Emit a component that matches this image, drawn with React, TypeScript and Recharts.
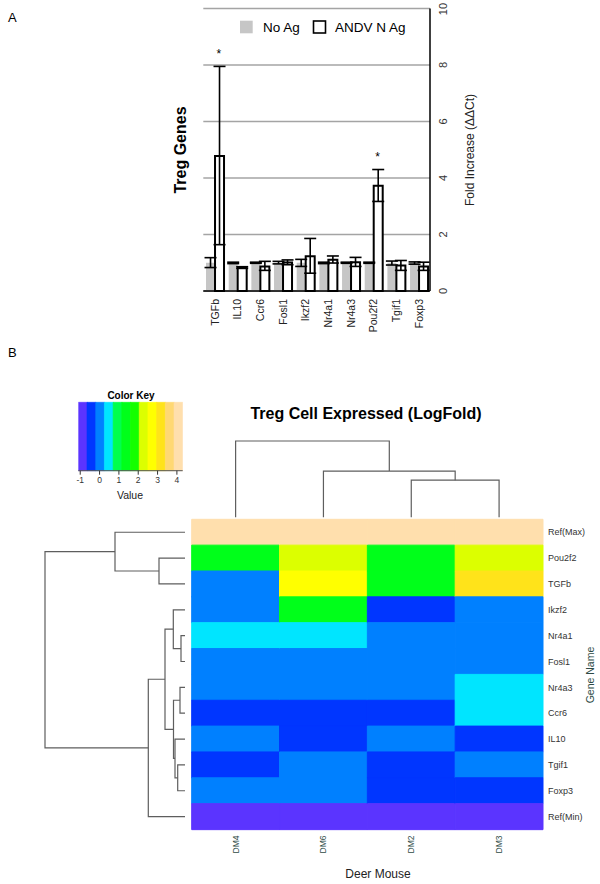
import React from "react";
import {
  Bar,
  BarChart,
  CartesianGrid,
  Cell,
  ComposedChart,
  ErrorBar,
  Line,
  LineChart,
  Scatter,
  XAxis,
  YAxis,
} from "recharts";

const FONT = "'Liberation Sans', Arial, Helvetica, sans-serif";

// ---- panel A: fold increase per Treg gene ----
const genesA = ["TGFb", "IL10", "Ccr6", "Fosl1", "Ikzf2", "Nr4a1", "Nr4a3", "Pou2f2", "Tgif1", "Foxp3"];
const noAg = [1, 1, 1, 1, 1, 1, 1, 1, 1, 1];
const noAgLow = [0.83, 0.97, 0.98, 0.96, 0.87, 0.97, 0.98, 0.98, 0.92, 0.95];
const noAgHigh = [1.18, 1.02, 1.02, 1.05, 1.12, 1.02, 1.02, 1.02, 1.06, 1.03];
const andv = [4.78, 0.84, 0.87, 1.01, 1.23, 1.11, 1.02, 3.73, 0.9, 0.87];
const andvLow = [1.64, 0.8, 0.73, 0.93, 0.63, 0.99, 0.87, 3.17, 0.73, 0.73];
const andvHigh = [7.95, 0.86, 1.05, 1.1, 1.86, 1.24, 1.19, 4.3, 1.08, 1.02];
const starred = ["TGFb", "Pou2f2"];
const foldTicks = [0, 2, 4, 6, 8, 10];
const seriesNames = ["No Ag", "ANDV N Ag"];

// ---- panel B: heatmap (log fold) ----
const heatGenes = ["Ref(Max)", "Pou2f2", "TGFb", "Ikzf2", "Nr4a1", "Fosl1", "Nr4a3", "Ccr6", "IL10", "Tgif1", "Foxp3", "Ref(Min)"];
const mice = ["DM4", "DM6", "DM2", "DM3"];
const dm4 = [4.2, 1.45, 0, 0, 0.5, 0, 0, -0.45, 0, -0.45, 0, -0.95];
const dm6 = [4.2, 2.3, 2.7, 1.45, 0.5, 0, 0, -0.45, -0.45, 0, 0, -0.95];
const dm2 = [4.2, 1.45, 1.45, -0.45, 0, 0, 0, -0.45, 0, -0.45, -0.45, -0.95];
const dm3 = [4.2, 2.3, 3.2, 0, 0, 0, 0.5, 0.5, -0.45, 0, -0.45, -0.95];

// colour key: 12 bins
const keyStart = -1.1;
const keyStep = 0.45;
const keyTicks = [-1, 0, 1, 2, 3, 4];
const keyColors = [
  "#5b34ff", "#0036ff", "#0080ff", "#00e5ff", "#00ff4d", "#00ff1a",
  "#14ff00", "#dcff00", "#ffff00", "#ffe31a", "#ffd873", "#ffdfad",
];

// dendrograms, hclust-style merges: [left, right, height]; numbers refer to earlier merges
const rowMerge: [string | number, string | number, number][] = [
  ["Pou2f2", "TGFb", 26],
  ["Ref(Max)", 0, 70],
  ["Nr4a1", "Fosl1", 4],
  ["Ikzf2", 2, 11.7],
  ["Nr4a3", "Ccr6", 5],
  ["Tgif1", "Foxp3", 7.3],
  ["IL10", 5, 10],
  [4, 6, 11.5],
  [3, 7, 20],
  [8, "Ref(Min)", 36.7],
  [1, 9, 140],
];
const colMerge: [string | number, string | number, number][] = [
  ["DM2", "DM3", 3.7],
  ["DM6", 0, 4.6],
  ["DM4", 1, 7.6],
];

const tableA = genesA.map((gene, i) => ({
  gene,
  noAg: noAg[i],
  noAgErr: [noAg[i] - noAgLow[i], noAgHigh[i] - noAg[i]],
  andv: andv[i],
  andvErr: [andv[i] - andvLow[i], andvHigh[i] - andv[i]],
  star: starred.includes(gene) ? andvHigh[i] + 0.5 : null,
}));

const heatCols = [dm4, dm6, dm2, dm3];
const heatTable = heatGenes.map((gene, i) => {
  const row: any = { gene };
  mice.forEach((m, j) => {
    row[m] = heatCols[j][i];
    row["w" + j] = 1;
  });
  return row;
});

// one bar per key bin, centred on the bin
const keyTable = keyColors.map((c, i) => ({ v: keyStart + (i + 0.5) * keyStep, full: 1, fill: c }));

const colorOf = (v: number) =>
  keyColors[Math.min(keyColors.length - 1, Math.max(0, Math.floor((v - keyStart) / keyStep)))];

function dendro(order: string[], merges: [string | number, string | number, number][]) {
  const pos: number[] = [];
  const hts: number[] = [];
  const at = (c: string | number) =>
    typeof c === "string" ? [order.indexOf(c) + 0.5, 0] : [pos[c], hts[c]];
  return merges.map(([a, b, h], k) => {
    const [pa, ha] = at(a);
    const [pb, hb] = at(b);
    pos[k] = (pa + pb) / 2;
    hts[k] = h;
    return [
      { p: pa, h: ha },
      { p: pa, h },
      { p: pb, h },
      { p: pb, h: hb },
    ];
  });
}

const rowSegs = dendro(heatGenes, rowMerge);
const colSegs = dendro(mice, colMerge);

const GeneTick = (p: any) => (
  <text x={p.x} y={p.y} transform={`rotate(-90 ${p.x} ${p.y})`} textAnchor="end" dominantBaseline="central" fontSize={10.5} fill="#222">
    {p.payload.value}
  </text>
);

const FoldTick = (p: any) => (
  <text x={p.x} y={p.y} transform={`rotate(-90 ${p.x} ${p.y})`} textAnchor="middle" dominantBaseline="central" fontSize={11} fill="#333">
    {p.payload.value}
  </text>
);

const MouseTick = (p: any) => (
  <text x={p.x} y={p.y} transform={`rotate(-90 ${p.x} ${p.y})`} textAnchor="end" dominantBaseline="central" fontSize={8.5} fill="#2d4a45">
    {mice[Math.floor(p.payload.value)]}
  </text>
);

const Star = (p: any) =>
  p.payload && p.payload.star != null ? (
    <text x={p.cx + 4.3} y={p.cy + 6} textAnchor="middle" fontSize={12} fill="#000">
      *
    </text>
  ) : (
    <g />
  );

const boxLine = { stroke: "#000", strokeWidth: 1.5 };

export default function App() {
  return (
    <div style={{ position: "absolute", left: 0, top: 0, width: 600, height: 884, background: "#fff", fontFamily: FONT }}>
      {/* panel A */}
      <div style={{ position: "absolute", left: 0, top: 0 }}>
        <ComposedChart
          width={600}
          height={350}
          data={tableA}
          margin={{ top: 8.5, left: 203.3, right: 140, bottom: 9 }}
          barCategoryGap="12%"
          barGap={0}
        >
          <CartesianGrid vertical={false} xAxisId="b" yAxisId="r" stroke="#a4a4a4" strokeWidth={1.5} />
          <Bar dataKey="noAg" name={seriesNames[0]} xAxisId="b" yAxisId="r" fill="#c6c6c6" isAnimationActive={false}>
            <ErrorBar dataKey="noAgErr" width={6} stroke="#000" strokeWidth={1.6} />
          </Bar>
          <Bar dataKey="andv" name={seriesNames[1]} xAxisId="b" yAxisId="r" fill="#fff" stroke="#000" strokeWidth={2} isAnimationActive={false}>
            <ErrorBar dataKey="andvErr" width={6} stroke="#000" strokeWidth={1.6} />
          </Bar>
          <Scatter dataKey="star" xAxisId="b" yAxisId="r" shape={Star} isAnimationActive={false} />
          <XAxis
            xAxisId="b"
            dataKey="gene"
            height={50}
            interval={0}
            tickSize={0}
            tickMargin={8}
            tick={GeneTick}
            tickLine={false}
            axisLine={boxLine}
          />
          <XAxis xAxisId="t" dataKey="gene" orientation="top" height={0} tick={false} tickLine={false} axisLine={boxLine} />
          <YAxis
            yAxisId="r"
            orientation="right"
            type="number"
            domain={[0, 10]}
            ticks={foldTicks}
            width={30}
            tickSize={0}
            tickMargin={13}
            tick={FoldTick}
            tickLine={false}
            axisLine={boxLine}
          />
          <YAxis yAxisId="l" orientation="left" type="number" domain={[0, 10]} width={0} tick={false} tickLine={false} axisLine={boxLine} />
        </ComposedChart>
      </div>

      {/* colour key */}
      <div style={{ position: "absolute", left: 60, top: 390 }}>
        <BarChart
          width={140}
          height={102}
          data={keyTable}
          barCategoryGap={0}
          margin={{ top: 12.3, left: 18.3, right: 17.3, bottom: 1.3 }}
        >
          <XAxis
            type="number"
            dataKey="v"
            domain={[keyStart, keyStart + keyColors.length * keyStep]}
            ticks={keyTicks}
            allowDataOverflow
            height={20}
            tickSize={4}
            tickMargin={2}
            tick={{ fontSize: 8.5, fill: "#333" }}
            axisLine={{ stroke: "#555" }}
            tickLine={{ stroke: "#333" }}
          />
          <YAxis type="number" domain={[0, 1]} hide />
          <Bar dataKey="full" isAnimationActive={false}>
            {keyTable.map((r, i) => (
              <Cell key={i} fill={r.fill} stroke={r.fill} strokeWidth={0.6} />
            ))}
          </Bar>
        </BarChart>
      </div>

      {/* column dendrogram */}
      <div style={{ position: "absolute", left: 180, top: 430 }}>
        <LineChart width={380} height={95} margin={{ top: 11, left: 11.7, right: 17, bottom: 7.7 }}>
          <XAxis type="number" dataKey="p" domain={[0, 4]} hide />
          <YAxis type="number" dataKey="h" domain={[0, 7.6]} hide />
          {colSegs.map((s, i) => (
            <Line key={i} data={s} dataKey="h" stroke="#5e5e5e" strokeWidth={1.2} dot={false} isAnimationActive={false} />
          ))}
        </LineChart>
      </div>

      {/* row dendrogram */}
      <div style={{ position: "absolute", left: 40, top: 514 }}>
        <LineChart width={150} height={320} margin={{ top: 5.3, left: 5, right: 5, bottom: 4.5 }}>
          <XAxis type="number" dataKey="h" domain={[0, 140]} reversed hide />
          <YAxis type="number" dataKey="p" domain={[0, 12]} reversed hide />
          {rowSegs.map((s, i) => (
            <Line key={i} data={s} dataKey="p" stroke="#5e5e5e" strokeWidth={1.2} dot={false} isAnimationActive={false} />
          ))}
        </LineChart>
      </div>

      {/* heatmap */}
      <div style={{ position: "absolute", left: 180, top: 510 }}>
        <BarChart
          width={420}
          height={374}
          data={heatTable}
          layout="vertical"
          barCategoryGap={0}
          margin={{ top: 9.3, left: 11.7, right: 12, bottom: 24.5 }}
        >
          {mice.map((m, j) => (
            <Bar key={m} dataKey={"w" + j} stackId="h" isAnimationActive={false}>
              {heatTable.map((r, i) => (
                <Cell key={i} fill={colorOf(r[m])} stroke={colorOf(r[m])} strokeWidth={1} />
              ))}
            </Bar>
          ))}
          <XAxis
            type="number"
            domain={[0, 4]}
            ticks={[0.5, 1.5, 2.5, 3.5]}
            height={30}
            tickSize={0}
            tickMargin={6}
            tick={MouseTick}
            tickLine={false}
            axisLine={false}
          />
          <YAxis
            type="category"
            dataKey="gene"
            orientation="right"
            width={45}
            interval={0}
            tickSize={0}
            tickMargin={5}
            tickLine={false}
            axisLine={false}
            tick={{ fontSize: 9, fill: "#333" }}
          />
        </BarChart>
      </div>

      {/* titles and legend */}
      <svg width={600} height={884} style={{ position: "absolute", left: 0, top: 0, pointerEvents: "none" }}>
        <text x={8} y={22} fontSize={13} fill="#000">A</text>
        <text x={8} y={357} fontSize={13} fill="#000">B</text>
        <text x={180} y={150} transform="rotate(-90 180 150)" textAnchor="middle" dominantBaseline="central" fontSize={16} fontWeight="bold" fill="#000">
          Treg Genes
        </text>
        <text x={470} y={150} transform="rotate(-90 470 150)" textAnchor="middle" dominantBaseline="central" fontSize={12} fill="#222">
          Fold Increase (ΔΔCt)
        </text>
        <rect x={240} y={20.7} width={12.7} height={12.6} fill="#c6c6c6" />
        <text x={263} y={27} dominantBaseline="central" fontSize={13.5} fill="#000">{seriesNames[0]}</text>
        <rect x={313.5} y={21} width={12} height={12} fill="#fff" stroke="#000" strokeWidth={1.6} />
        <text x={335} y={27} dominantBaseline="central" fontSize={13.5} fill="#000">{seriesNames[1]}</text>

        <text x={366} y={413} textAnchor="middle" dominantBaseline="central" fontSize={16} fontWeight="bold" fill="#000">
          Treg Cell Expressed (LogFold)
        </text>
        <text x={131} y={395} textAnchor="middle" dominantBaseline="central" fontSize={10} fontWeight="bold" fill="#000">
          Color Key
        </text>
        <text x={130} y={495} textAnchor="middle" dominantBaseline="central" fontSize={10.5} fill="#222">
          Value
        </text>
        <text x={590} y={675} transform="rotate(-90 590 675)" textAnchor="middle" dominantBaseline="central" fontSize={10.5} fill="#2d4a45">
          Gene Name
        </text>
        <text x={378} y={874} textAnchor="middle" dominantBaseline="central" fontSize={12} fill="#222">
          Deer Mouse
        </text>
      </svg>
    </div>
  );
}
